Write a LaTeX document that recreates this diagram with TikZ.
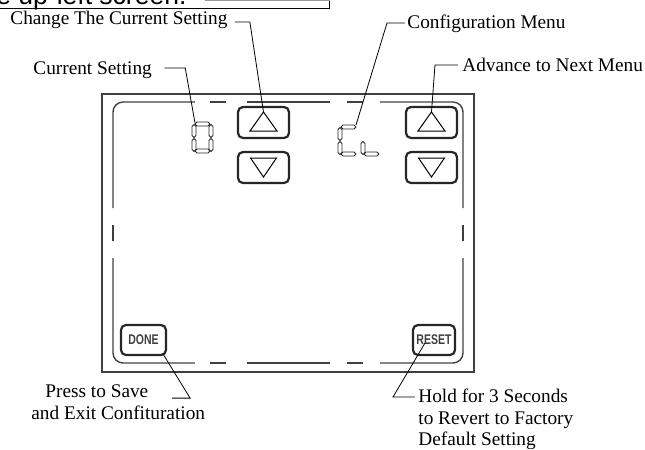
\documentclass[tikz,border=0pt]{standalone}
\usepackage{fontspec}
\usepackage{graphicx}
\setmainfont{Liberation Serif}
\setsansfont{Liberation Sans}

% LCD segments: horizontal from left tip, vertical from top tip
\newcommand{\hseg}[2]{\draw[lcdseg] (#1,#2) -- ++(2,-2) -- ++(11,0) -- ++(2,2) -- ++(-2,2) -- ++(-11,0) -- cycle;}
\newcommand{\vseg}[2]{\draw[lcdseg] (#1,#2) -- ++(2,2) -- ++(0,9) -- ++(-2,2) -- ++(-2,-2) -- ++(0,-9) -- cycle;}

\begin{document}
\begin{tikzpicture}[x=0.5pt, y=-0.5pt,
    lbl/.style={inner sep=0pt, font=\fontsize{9.65}{10.75}\selectfont},
    leader/.style={line width=0.4pt},
    key/.style={draw=black!85, line width=1.1pt, rounded corners=2.5pt, inner sep=0pt},
    keytext/.style={text=black!75, font=\sffamily\bfseries\fontsize{7}{7}\selectfont},
    inner/.style={draw=black!75, line width=0.7pt},
    lcdseg/.style={draw=black!85, line width=0.4pt, line join=round},
    tri/.style={draw, line width=0.5pt}]
    \useasboundingbox (0,0) rectangle (645,450);

    % cut-off line above
    \begin{scope}
        \clip (0,0) rectangle (645,450);
        \node[anchor=base west, inner sep=0pt, font=\sffamily\fontsize{13.25}{14}\selectfont] (frag) at (-4,4.5) {e up-left screen.};
    \end{scope}
    \draw[line width=0.5pt] (0,8.5) -- (330,8.5) -- (330,0);
    \draw[black!40, line width=0.5pt] (205,0.7) -- (330,0.7);

    % display frame
    \draw[black!75, line width=0.6pt] (102,94) rectangle (474,372);
    \draw[inner, rounded corners=5pt] (113,208) -- (113,102) -- (195,102);
    \draw[inner, rounded corners=5pt] (380,102) -- (463,102) -- (463,208);
    \draw[inner, rounded corners=5pt] (113,258) -- (113,363) -- (195,363);
    \draw[inner, rounded corners=5pt] (380,363) -- (463,363) -- (463,258);
    \foreach \a/\b in {210/226, 247/330, 347/363} {
        \draw[inner] (\a,102) -- (\b,102);
        \draw[inner] (\a,363) -- (\b,363);
    }
    \draw[inner] (113,225) -- (113,241);
    \draw[inner] (463,225) -- (463,241);

    % arrow keys
    \foreach \i/\x in {1/263.5, 2/431.5} {
        \node[key, minimum width=25.5pt, minimum height=15.5pt] (up\i) at (\x,122.5) {};
        \node[key, minimum width=25.5pt, minimum height=15.5pt] (down\i) at (\x,167.5) {};
        \draw[tri] ([shift={(-13.5,8.5)}]up\i.center) -- ([shift={(0,-10.5)}]up\i.center) -- ([shift={(13.5,8.5)}]up\i.center) -- cycle;
        \draw[tri] ([shift={(-13,-9.5)}]down\i.center) -- ([shift={(0,9.5)}]down\i.center) -- ([shift={(13,-9.5)}]down\i.center) -- cycle;
        \coordinate (tip\i) at ([shift={(0,-10.5)}]up\i.center);
    }

    % digit 0
    \hseg{195}{124} \hseg{195}{151}
    \vseg{211}{124.5} \vseg{211}{138.5}
    \vseg{194}{124.5} \vseg{194}{138.5}
    \coordinate (zero) at (195,123);
    % CL
    \hseg{341}{127} \hseg{341}{154}
    \vseg{340}{127.5} \vseg{340}{141.5}
    \vseg{363}{141.5} \hseg{364}{154}
    \coordinate (cl) at (356,125);

    % DONE and RESET keys
    \node[key, keytext, minimum width=22.5pt, minimum height=15pt] (done) at (143.5,340) {\scalebox{0.75}[1]{DONE}};
    \node[key, keytext, minimum width=21pt, minimum height=15pt] (reset) at (434,340) {\scalebox{0.75}[1]{RESET}};

    % labels
    \node[lbl, anchor=base west] (change) at (10,24) {Change The Current Setting};
    \node[lbl, anchor=base west] (current) at (33,74) {Current Setting};
    \node[lbl, anchor=base west] (config) at (407,28) {Configuration Menu};
    \node[lbl, anchor=base west] (advance) at (462,71) {Advance to Next Menu};
    \node[lbl, anchor=base west, align=left] (press) at (31,419) {\hspace*{7pt}Press to Save\\and Exit Confituration};
    \node[lbl, anchor=base west, align=left] (hold) at (418,445.5) {Hold for 3 Seconds\\to Revert to Factory\\Default Setting};

    % leaders
    \draw[leader] ([shift={(7,-2)}]change.base east) -- ++(15,0) -- (tip1);
    \draw[leader] ([shift={(12,-6)}]current.base east) -- ++(21,0) -- (zero);
    \draw[leader] ([shift={(-2,-5)}]config.base west) -- ++(-18,0) -- (cl);
    \draw[leader] ([shift={(-4,-6)}]advance.base west) -- ++(-23,0) -- (tip2);
    \draw[leader] ([shift={(-4,-2)}]done.south east) -- ++(27,44) -- ++(-18,0);
    \draw[leader] ([shift={(-9,3)}]reset.center) -- ++(-32,54) -- ++(22,0);
\end{tikzpicture}
\end{document}
